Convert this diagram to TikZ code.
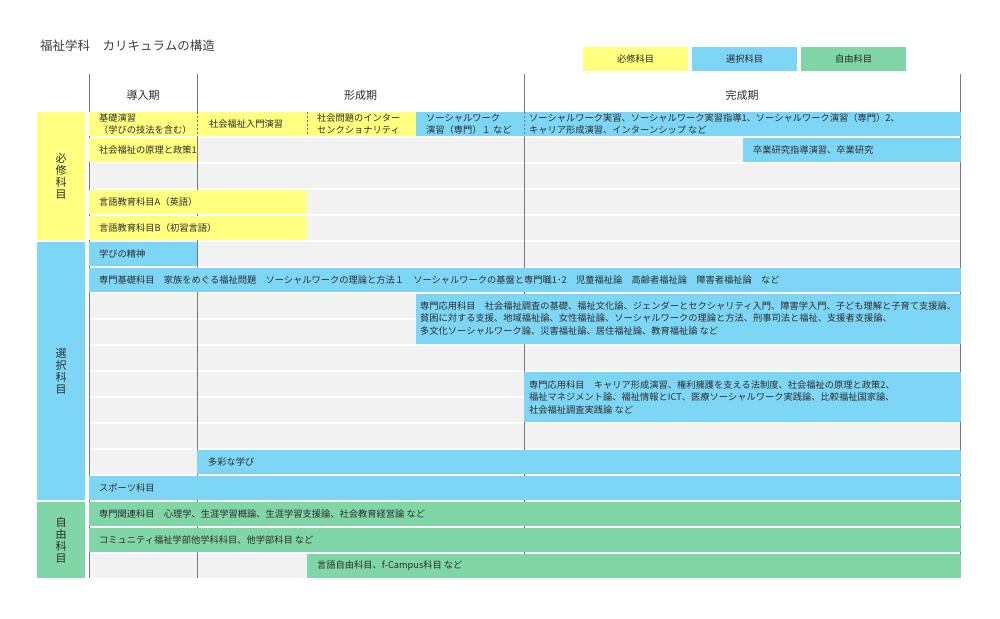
\documentclass[tikz,border=0pt]{standalone}
\usepackage{fontspec}
\setmainfont{Noto Sans CJK JP}
\definecolor{req}{RGB}{255,255,128}
\definecolor{ele}{RGB}{126,214,247}
\definecolor{fre}{RGB}{128,214,166}
\definecolor{rowgrey}{RGB}{242,242,242}
\definecolor{txt}{RGB}{45,45,45}
\definecolor{vline}{RGB}{120,120,120}
\newcommand\cellbox[5]{\fill[#1] (#2,{112+26*(#4)}) rectangle (#3,{136+26*(#5)});}
\begin{document}
\begin{tikzpicture}[x=1pt,y=-1pt,
  lbl/.style={anchor=west, inner sep=0pt, font=\fontsize{9.25}{12.5}\selectfont, text=txt, align=left},
  lbltight/.style={lbl, font=\fontsize{9.25}{11.5}\selectfont},
  head/.style={inner sep=0pt, font=\fontsize{11}{13}\selectfont, text=txt},
  cat/.style={inner sep=0pt, font=\fontsize{11}{12}\selectfont, text=txt, align=center},
  legend/.style={inner sep=0pt, font=\fontsize{9.25}{11}\selectfont, text=black!85},
  vsep/.style={vline, line width=0.8pt},
  dsep/.style={vline, line width=0.8pt, dash pattern=on 2pt off 2pt}]
\useasboundingbox (0,0) rectangle (1000,618);
\fill[white] (0,0) rectangle (1000,618);

% title
\node[anchor=west, inner sep=0pt, font=\fontsize{12.5}{14}\selectfont, text=black!75] (title) at (40,46) {福祉学科　カリキュラムの構造};

% legend
\fill[req] (583,47) rectangle (688,71);
\fill[ele] (692,47) rectangle (797,71);
\fill[fre] (801,47) rectangle (906,71);
\node[legend] (lgreq) at (635.5,59) {必修科目};
\node[legend] (lgele) at (744.5,59) {選択科目};
\node[legend] (lgfre) at (853.5,59) {自由科目};

% grey rows
\foreach \i in {0,...,17} {\fill[rowgrey] (89,{112+26*\i}) rectangle (960,{136+26*\i});}

% vertical lines
\foreach \x in {89,197,524,960} {\draw[vsep] (\x,74) -- (\x,578);}

% headers
\node[head] (h1) at (143,95) {導入期};
\node[head] (h2) at (360.5,95) {形成期};
\node[head] (h3) at (742,95) {完成期};

% category boxes
\fill[req] (37,112) rectangle (85,240);
\fill[ele] (37,242) rectangle (85,500);
\fill[fre] (37,502) rectangle (85,578);
\node[cat] (c1) at (61,176) {必\\修\\科\\目};
\node[cat] (c2) at (61,371) {選\\択\\科\\目};
\node[cat] (c3) at (61,540) {自\\由\\科\\目};

% row 0
\cellbox{req}{89}{416}{0}{0}
\cellbox{ele}{416}{961}{0}{0}
\foreach \x in {197,307,524} {\draw[dsep] (\x,112) -- (\x,136);}
\node[lbltight] (r0a) at (99,124) {基礎演習\\（学びの技法を含む）};
\node[lbltight] (r0b) at (209,124) {社会福祉入門演習};
\node[lbltight] (r0c) at (317,124) {社会問題のインター\\センクショナリティ};
\node[lbltight] (r0d) at (426,124) {ソーシャルワーク\\演習（専門）１ など};
\node[lbltight] (r0e) at (529,124) {ソーシャルワーク実習、ソーシャルワーク実習指導1、ソーシャルワーク演習（専門）2、\\キャリア形成演習、インターンシップ など};

% row 1
\cellbox{req}{89}{197}{1}{1}
\cellbox{ele}{743}{961}{1}{1}
\node[lbl] (r1a) at (99,150) {社会福祉の原理と政策1};
\node[lbl] (r1b) at (753,150) {卒業研究指導演習、卒業研究};

% rows 3-4
\cellbox{req}{89}{307}{3}{3}
\cellbox{req}{89}{307}{4}{4}
\node[lbl] (r3) at (99,202) {言語教育科目A（英語）};
\node[lbl] (r4) at (99,228) {言語教育科目B（初習言語）};

% rows 5-6
\cellbox{ele}{89}{197}{5}{5}
\node[lbl] (r5) at (99,254) {学びの精神};
\cellbox{ele}{89}{961}{6}{6}
\node[lbl] (r6) at (99,280) {専門基礎科目　家族をめぐる福祉問題　ソーシャルワークの理論と方法１　ソーシャルワークの基盤と専門職1･2　児童福祉論　高齢者福祉論　障害者福祉論　など};

% rows 7-8
\cellbox{ele}{416}{961}{7}{8}
\node[lbl] (r7) at (420,318) {専門応用科目　社会福祉調査の基礎、福祉文化論、ジェンダーとセクシャリティ入門、障害学入門、子ども理解と子育て支援論、\\貧困に対する支援、地域福祉論、女性福祉論、ソーシャルワークの理論と方法、刑事司法と福祉、支援者支援論、\\多文化ソーシャルワーク論、災害福祉論、居住福祉論、教育福祉論 など};

% rows 10-11
\cellbox{ele}{524}{961}{10}{11}
\node[lbl] (r10) at (529,397) {専門応用科目　キャリア形成演習、権利擁護を支える法制度、社会福祉の原理と政策2、\\福祉マネジメント論、福祉情報とICT、医療ソーシャルワーク実践論、比較福祉国家論、\\社会福祉調査実践論 など};

% rows 13-14
\cellbox{ele}{197}{961}{13}{13}
\node[lbl] (r13) at (208,462) {多彩な学び};
\cellbox{ele}{89}{961}{14}{14}
\node[lbl] (r14) at (99,488) {スポーツ科目};

% rows 15-17
\cellbox{fre}{89}{961}{15}{15}
\node[lbl] (r15) at (99,514) {専門関連科目　心理学、生涯学習概論、生涯学習支援論、社会教育経営論 など};
\cellbox{fre}{89}{961}{16}{16}
\node[lbl] (r16) at (99,540) {コミュニティ福祉学部他学科科目、他学部科目 など};
\cellbox{fre}{307}{961}{17}{17}
\node[lbl] (r17) at (317,566) {言語自由科目、f-Campus科目 など};
\end{tikzpicture}
\end{document}
